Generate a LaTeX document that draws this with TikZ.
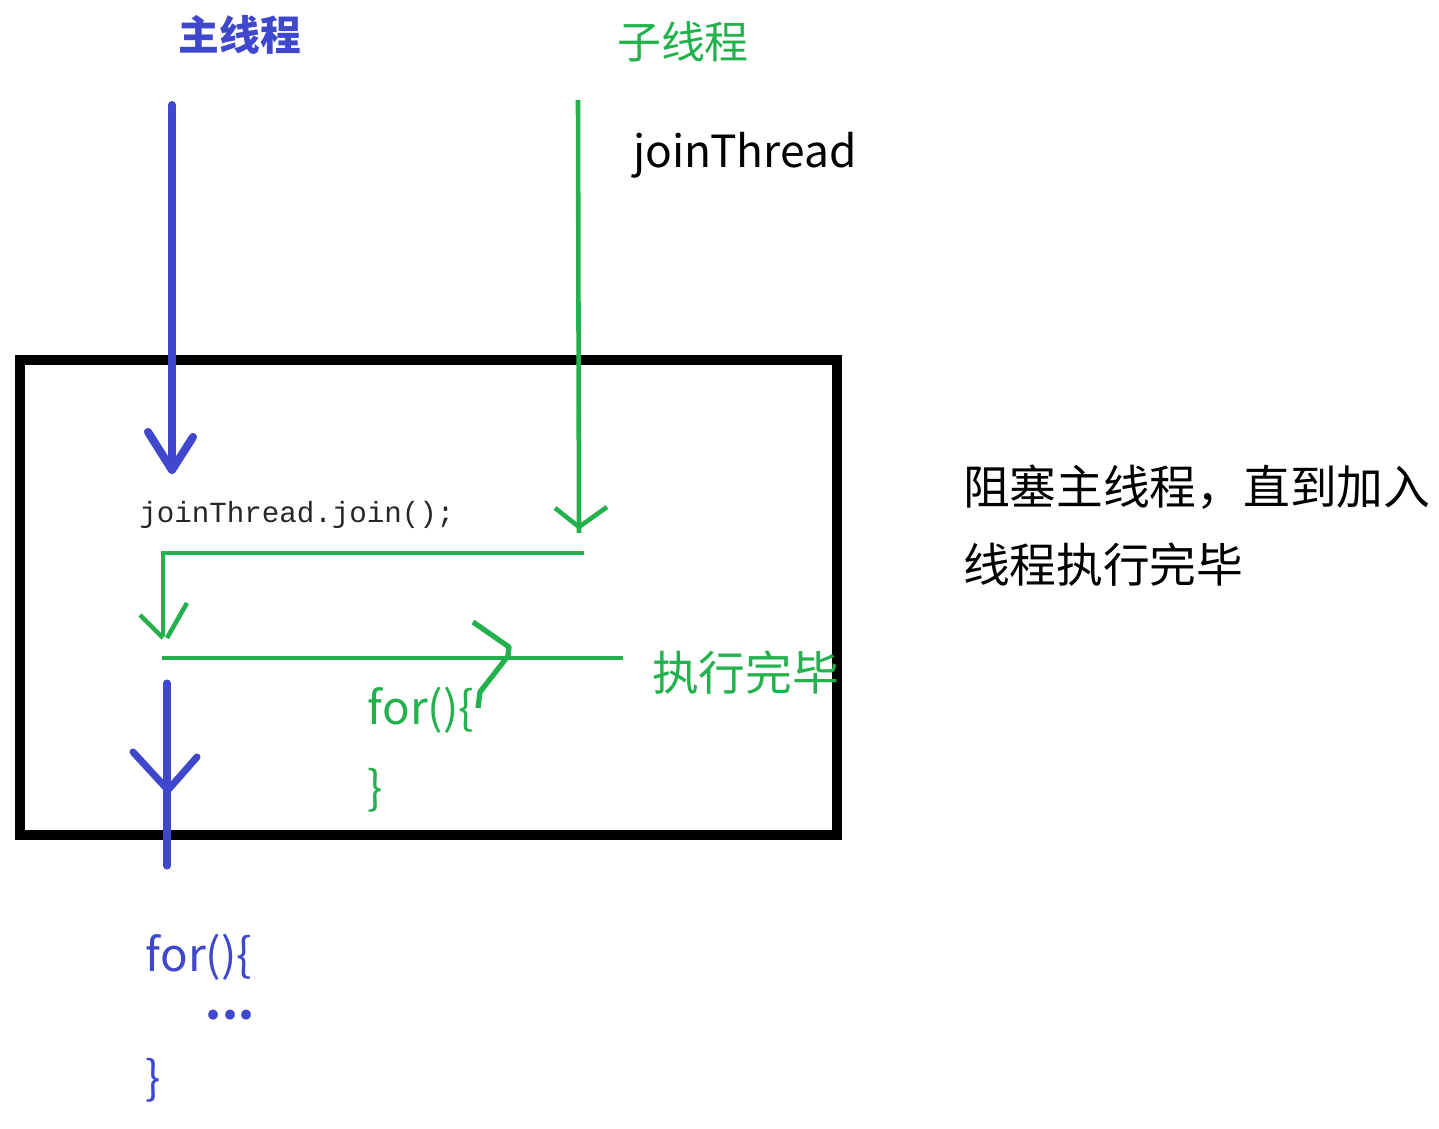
\documentclass[tikz,border=0pt]{standalone}
\usepackage{fontspec}
\setmainfont{Noto Sans CJK SC}
\newfontfamily\codefont{Liberation Mono}
\usetikzlibrary{positioning}
\usetikzlibrary{calc}
\definecolor{mainblue}{RGB}{63,72,204}
\definecolor{subgreen}{RGB}{34,177,76}
\tikzset{
	every node/.style={inner sep=0pt, outer sep=0pt},
	mainline/.style={mainblue, line width=2.3pt, line cap=round, line join=round},
	subline/.style={subgreen, line width=1.3pt},
	frame/.style={draw, line width=2.85pt, minimum width=8.17cm, minimum height=4.75cm},
	txt/.style={font=\fontsize{13.3}{16}\selectfont},
	code/.style={font=\codefont\fontsize{8.3}{10}\selectfont, text=black!85},
	codebig/.style={font=\fontsize{13}{16}\selectfont, anchor=west}
}

\begin{document}
\begin{tikzpicture}
				\useasboundingbox (0,0) rectangle (14.39,-11.29);
				% Title
				\node[txt, text=mainblue, font=\fontsize{11.6}{14}\selectfont\bfseries] (main) at (2.40,-0.35) {主线程};
				\node[txt, text=subgreen, font=\fontsize{12.5}{14}\selectfont] (sub) at (6.83,-0.42) {子线程};
				\node[txt, font=\fontsize{12.6}{15}\selectfont] (jt) at (7.45,-1.55) {joinThread};
				
				\node[frame] (box) at (4.285,-5.975) {};
				\node[code] (join) at (2.97,-5.15) {joinThread.join();};
				\node[txt, anchor=west] (note1) at (9.63,-4.87) {阻塞主线程，直到加入};
				\node[txt, anchor=west] (note2) at (9.63,-5.65) {线程执行完毕};
				\node[txt, text=subgreen, anchor=west] (done) at (6.52,-6.73) {执行完毕};
				\node[codebig, text=subgreen] (for1) at (3.68,-7.10) {for()\{};
				\node[codebig, text=subgreen] (end1) at (3.68,-7.90) {\}};
				\node[codebig, text=mainblue] (for2) at (1.46,-9.57) {for()\{};
				\node[codebig, text=mainblue, font=\fontsize{13}{16}\selectfont\bfseries] (dots) at (2.06,-10.15) {...};
				\node[codebig, text=mainblue] (end2) at (1.46,-10.80) {\}};
				
				\coordinate (m1) at (1.72,-1.05);
				\coordinate (m2) at (1.72,-4.70);
				\coordinate (m3) at (1.67,-6.83);
				\coordinate (m4) at (1.67,-8.66);
				\coordinate (s1) at (5.78,-1.00);
				\coordinate (s2) at (5.79,-5.33);
				\coordinate (j1) at (5.84,-5.53);
				\coordinate (j2) at (1.63,-5.53);
				\coordinate (j3) at (1.63,-6.36);
				\coordinate (d1) at (1.62,-6.58);
				\coordinate (d2) at (6.23,-6.58);
				
				\draw[mainline] (m1) -- (m2);
				\draw[mainline] (1.48,-4.32) -- (m2) -- (1.93,-4.37);
				\draw[mainline, line width=2pt] (m3) -- (m4);
				\draw[mainline, line width=2pt] (1.33,-7.52) -- (1.68,-7.90) -- (1.97,-7.57);
				
				\draw[subline] (s1) -- (s2);
				\draw[subline] (5.55,-5.08) -- (5.79,-5.27) -- (6.07,-5.07);
				\draw[subline] (j1) -- (j2) -- (j3);
				\draw[subline] (1.40,-6.15) -- (1.63,-6.38);
				\draw[subline] (1.87,-6.03) -- (1.67,-6.38);
				\draw[subline] (d1) -- (d2);
				\draw[subline, line width=1.5pt, line join=round] (4.73,-6.22) -- (5.09,-6.47) -- (5.08,-6.56) -- (4.80,-6.92) -- (4.78,-7.08);
				
			\end{tikzpicture}
\end{document}
